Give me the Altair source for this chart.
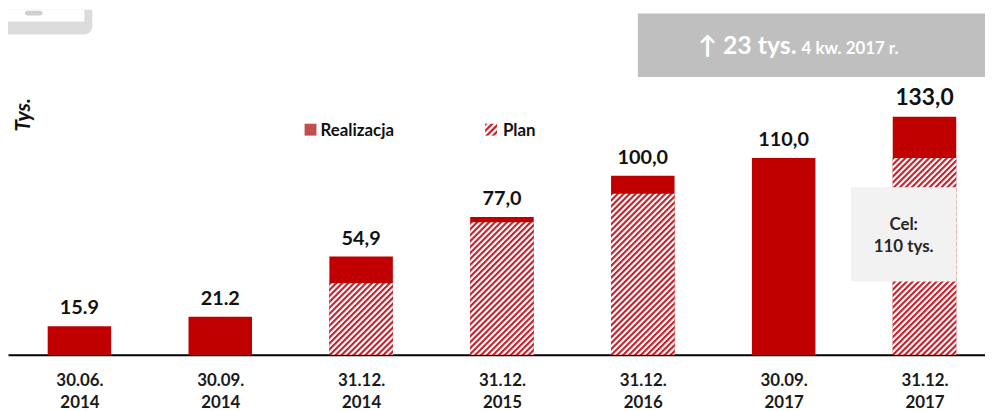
import json
import math
import altair as alt
import pandas as pd

# ---------------- data ----------------
categories = ["30.06. 2014", "30.09. 2014", "31.12. 2014", "31.12. 2015",
              "31.12. 2016", "30.09. 2017", "31.12. 2017"]
realizacja = [15.9, 21.2, 54.9, 77.0, 100.0, 110.0, 133.0]
plan = [None, None, 40.0, 74.0, 90.0, None, 110.0]
value_labels = ["15.9", "21.2", "54,9", "77,0", "100,0", "110,0", "133,0"]
legend_labels = ["Realizacja", "Plan"]
y_title = "Tys."
kpi_main = "\u2191 23 tys."
kpi_sub = "4 kw. 2017 r."
goal_lines = ["Cel:", "110 tys."]

RED = "#C00000"
FONT = "Lato"
W, H = 985, 348
Y_MAX = 192.8
PX_PER_UNIT = H / Y_MAX
BAR_W = 64
STEP = 142.0
FIRST_CENTER = 72.0

df = pd.DataFrame({"idx": list(range(len(categories))), "cat": categories,
                   "val": realizacja, "plan": plan, "lbl": value_labels})


def hatch(w, h, period=4.24, color="#C8202A"):
    """Diagonal (/) red-on-white stripes as a repeated linear gradient."""
    k = (w + h) / (w * w + h * h)
    span = (w + h) / math.sqrt(2)
    n = span / period
    stops = []
    j = 0
    while j / n < 1:
        for frac, col in ((0.0, color), (0.25, color), (0.55, "#FFFFFF"), (0.8, "#FFFFFF")):
            off = (j + frac) / n
            if off <= 1.0:
                stops.append((col, off))
        j += 1
    return alt.LinearGradient(
        gradient="linear",
        stops=[alt.GradientStop(color=col, offset=off) for col, off in stops],
        x1=0, y1=0, x2=w * k, y2=h * k,
    )


x_scale = alt.Scale(domain=[-FIRST_CENTER / STEP, (W - FIRST_CENTER) / STEP],
                    nice=False, zero=False, padding=0)
label_expr = "split(" + json.dumps(categories) + "[datum.value], ' ')"
x_enc = alt.X(
    "idx:Q", title=None, scale=x_scale,
    axis=alt.Axis(values=list(range(len(categories))), labelAngle=0, labelExpr=label_expr,
                  labelFont=FONT, labelFontWeight="bold", labelFontSize=17,
                  labelColor="#1a1a1a", labelLineHeight=22, labelPadding=18,
                  labelFlush=False, labelOverlap=False,
                  ticks=False, tickSize=0, grid=False,
                  domainColor="#000000", domainWidth=2),
)
x_plain = alt.X("idx:Q", scale=x_scale)
y_scale = alt.Scale(domain=[0, Y_MAX], nice=False, padding=0)

base = alt.Chart(df)

bars = base.mark_bar(color=RED, size=BAR_W).encode(
    x=x_enc, y=alt.Y("val:Q", scale=y_scale, axis=None))

layers = [bars]
for c, p in zip(categories, plan):
    if p is None:
        continue
    layers.append(
        base.transform_filter(alt.datum.cat == c).mark_bar(
            fill=hatch(BAR_W, p * PX_PER_UNIT), size=BAR_W, strokeWidth=0
        ).encode(x=x_plain, y=alt.Y("plan:Q", scale=y_scale, axis=None))
    )

labels = base.mark_text(dy=-12, baseline="alphabetic", font=FONT, fontWeight="bold",
                        color="#111111").encode(
    x=x_plain, y=alt.Y("val:Q", scale=y_scale, axis=None), text="lbl:N",
    size=alt.condition(alt.datum.cat == categories[-1], alt.value(23), alt.value(20)),
)
layers.append(labels)

one = pd.DataFrame({"a": [0]})
ann = alt.Chart(one)

# goal box
layers.append(ann.mark_rect(color="#F2F2F2").encode(
    x=alt.value(850), x2=alt.value(956), y=alt.value(179), y2=alt.value(274)))
layers.append(ann.mark_text(text=goal_lines[0], font=FONT, fontWeight="bold", fontSize=17,
                            color="#262626", align="center", baseline="alphabetic").encode(
    x=alt.value(903), y=alt.value(222)))
layers.append(ann.mark_text(text=goal_lines[1], font=FONT, fontWeight="bold", fontSize=17,
                            color="#262626", align="center", baseline="alphabetic").encode(
    x=alt.value(903), y=alt.value(244)))

# KPI box
layers.append(ann.mark_rect(color="#BFBFBF").encode(
    x=alt.value(635), x2=alt.value(985), y=alt.value(4), y2=alt.value(68)))
layers.append(ann.mark_text(text=kpi_main, font=FONT, fontWeight="bold", fontSize=25,
                            color="#FFFFFF", align="right", baseline="alphabetic").encode(
    x=alt.value(795), y=alt.value(45)))
layers.append(ann.mark_text(text=kpi_sub, font=FONT, fontWeight="bold", fontSize=17,
                            color="#FFFFFF", align="left", baseline="alphabetic").encode(
    x=alt.value(800), y=alt.value(45)))

# y title
layers.append(ann.mark_text(text=y_title, font=FONT, fontWeight="bold", fontStyle="italic",
                            fontSize=21, angle=270, color="#111111",
                            align="center", baseline="middle").encode(
    x=alt.value(16), y=alt.value(106)))

# legend
layers.append(ann.mark_rect(color="#C0504D").encode(
    x=alt.value(299), x2=alt.value(311), y=alt.value(115), y2=alt.value(127)))
layers.append(ann.mark_text(text=legend_labels[0], font=FONT, fontWeight="bold", fontSize=17,
                            color="#111111", align="left", baseline="alphabetic").encode(
    x=alt.value(315), y=alt.value(127)))
layers.append(ann.mark_rect(fill=hatch(12, 12, period=4.5)).encode(
    x=alt.value(481), x2=alt.value(493), y=alt.value(115), y2=alt.value(127)))
layers.append(ann.mark_text(text=legend_labels[1], font=FONT, fontWeight="bold", fontSize=17,
                            color="#111111", align="left", baseline="alphabetic").encode(
    x=alt.value(499), y=alt.value(127)))

# decorative icon (top-left)
layers.append(ann.mark_rect(color="#DCDCDC", cornerRadiusBottomRight=8).encode(
    x=alt.value(0), x2=alt.value(85), y=alt.value(0), y2=alt.value(25)))
layers.append(ann.mark_rect(color="#FFFFFF").encode(
    x=alt.value(0), x2=alt.value(77), y=alt.value(0), y2=alt.value(12)))
layers.append(ann.mark_rect(color="#D0D0D0", cornerRadius=3).encode(
    x=alt.value(17), x2=alt.value(35), y=alt.value(1), y2=alt.value(6)))

chart = alt.layer(*layers).properties(
    width=W, height=H, padding=0, background="#FFFFFF"
).configure_view(stroke=None)

chart.save("out.html", embed_options={"renderer": "svg", "actions": False})
